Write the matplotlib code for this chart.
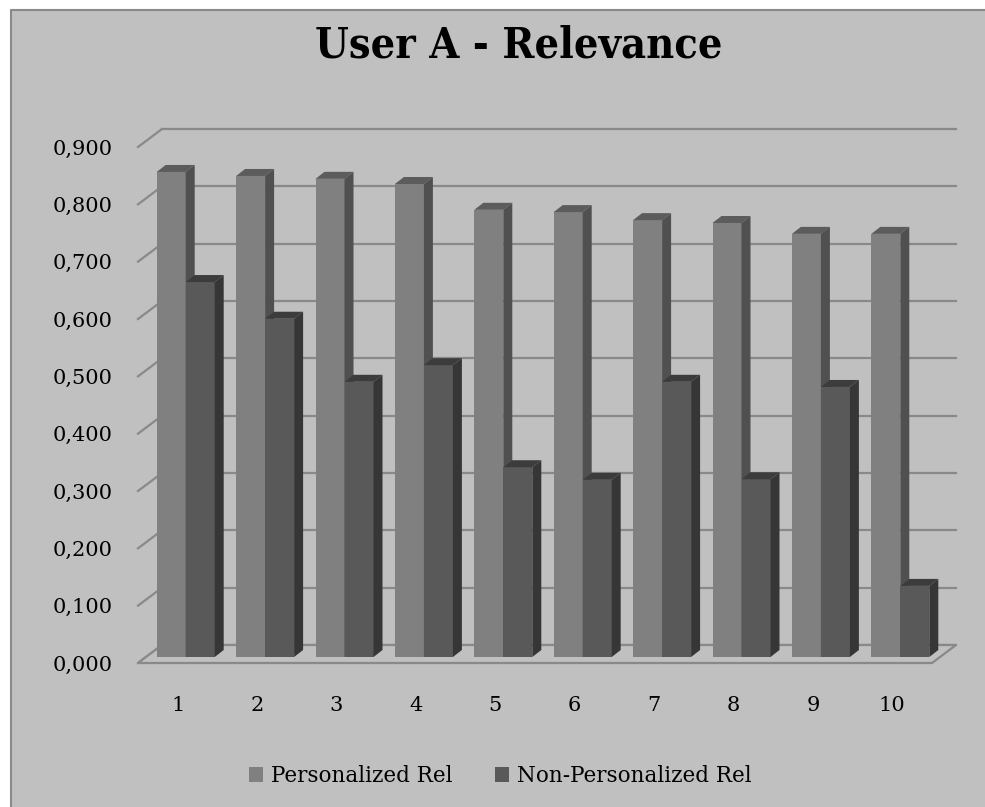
import numpy as np
import matplotlib.pyplot as plt
from matplotlib.patches import Polygon, Rectangle
from matplotlib.lines import Line2D

# data
categories = ['1', '2', '3', '4', '5', '6', '7', '8', '9', '10']
personalized = [0.846, 0.839, 0.834, 0.825, 0.780, 0.776, 0.762, 0.757, 0.738, 0.738]
non_personalized = [0.654, 0.590, 0.480, 0.509, 0.331, 0.309, 0.480, 0.310, 0.471, 0.124]
yticks = [0.0, 0.1, 0.2, 0.3, 0.4, 0.5, 0.6, 0.7, 0.8, 0.9]
ytick_labels = ['%.3f' % v for v in yticks]
ytick_labels = [s.replace('.', ',') for s in ytick_labels]

W, H = 985, 807
fig = plt.figure(figsize=(W / 100, H / 100), dpi=100)
fig.patch.set_facecolor('white')

# grey chart area, border only on the left and top
x0, y0 = 11 / W, 1 - 10 / H
fig.add_artist(Rectangle((x0, 0), 1 - x0, y0, transform=fig.transFigure,
                         facecolor='#c0c0c0', edgecolor='none', zorder=0))
fig.add_artist(Line2D([x0, x0, 1], [0, y0, y0], transform=fig.transFigure,
                      color='#8a8a8a', lw=1.5, zorder=0))

# front plane of the 3d box
ax = fig.add_axes([138 / W, 1 - 663 / H, 794 / W, 516 / H])
ax.set_xlim(0.5, 10.5)
ax.set_ylim(0, 0.9)
ax.patch.set_visible(False)
for s in ax.spines.values():
    s.set_visible(False)

# pixel -> data helpers
sx = ax.bbox.width / 10.0
sy = ax.bbox.height / 0.9
ddx, ddy = 24 / sx, 18 / sy        # full depth of the box
bdx, bdy = 9 / sx, 7 / sy          # depth of a single bar
off_x, off_y = 8 / sx, 6 / sy      # bars sit a bit behind the front edge

grid_c = '#898989'

# back wall gridlines + side wall lines
for v in yticks:
    ax.plot([0.5 + ddx, 10.5 + ddx], [v + ddy, v + ddy], color=grid_c,
            lw=1.6, clip_on=False, zorder=1)
    ax.plot([0.5, 0.5 + ddx], [v, v + ddy], color=grid_c,
            lw=1.6, clip_on=False, zorder=1)

# floor
floor = Polygon([(0.5, 0), (10.5, 0), (10.5 + ddx, ddy), (0.5 + ddx, ddy)],
                closed=True, facecolor='#c0c0c0', edgecolor=grid_c, lw=1.6,
                clip_on=False, zorder=1)
ax.add_patch(floor)

x = np.arange(1, 11)
w = 29 / sx


def bars_3d(xleft, vals, front, top, side, z, label):
    bc = ax.bar(xleft, vals, w, bottom=off_y, align='edge', color=front,
                edgecolor='none', zorder=z, label=label, clip_on=False)
    for xl, v in zip(xleft, vals):
        xr = xl + w
        t = off_y + v
        ax.add_patch(Polygon([(xl, t), (xr, t), (xr + bdx, t + bdy), (xl + bdx, t + bdy)],
                             closed=True, facecolor=top, edgecolor='none',
                             zorder=z, clip_on=False))
        ax.add_patch(Polygon([(xr, off_y), (xr, t), (xr + bdx, t + bdy), (xr + bdx, off_y + bdy)],
                             closed=True, facecolor=side, edgecolor='none',
                             zorder=z, clip_on=False))
    return bc


b1 = bars_3d(x + off_x - w, personalized, '#808080', '#5c5c5c', '#505050', 3,
             'Personalized Rel')
b2 = bars_3d(x + off_x, non_personalized, '#595959', '#3c3c3c', '#363636', 4,
             'Non-Personalized Rel')

# axis labels
ax.set_yticks(yticks, labels=ytick_labels)
ax.set_xticks(x, labels=categories)
ax.tick_params(axis='both', length=0, labelsize=15, labelcolor='black')
ax.tick_params(axis='y', pad=18)
ax.tick_params(axis='x', pad=24)
for lab in ax.get_xticklabels() + ax.get_yticklabels():
    lab.set_family('DejaVu Serif')

fig.text(0.527, 1 - 45 / H, 'User A - Relevance', ha='center', va='center',
         fontsize=31, fontweight='bold', family='DejaVu Serif',
         fontstretch='condensed')

fig.legend(handles=[b1, b2], loc='center', bbox_to_anchor=(0.508, 1 - 776 / H),
           ncol=2, frameon=False, handlelength=0.65, handleheight=0.65,
           handletextpad=0.35, columnspacing=2.0,
           prop={'family': 'DejaVu Serif', 'size': 15.5})

fig.savefig('out.png', dpi=100)
